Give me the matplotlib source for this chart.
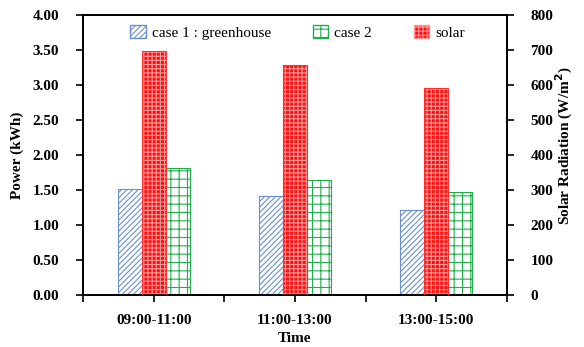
import matplotlib
matplotlib.use("Agg")
import matplotlib.pyplot as plt
from matplotlib.patches import Patch
import numpy as np

# Dados
periodos = ["09:00-11:00", "11:00-13:00", "13:00-15:00"]
case1 = [1.52, 1.42, 1.21]      # kWh
case2 = [1.82, 1.64, 1.47]      # kWh
solar = [697, 657, 592]         # W/m2

plt.rcParams["font.family"] = ["Liberation Serif", "DejaVu Serif"]
plt.rcParams["hatch.linewidth"] = 0.8

fig = plt.figure(figsize=(5.84, 3.47), dpi=100)
ax = fig.add_axes([83 / 584, 52 / 347, 424 / 584, 280 / 347])
ax2 = ax.twinx()

x = np.arange(len(periodos))
w = 0.17

# case 1 - azul hachurado
ax.bar(x - w, case1, w, facecolor="white", edgecolor="#6a90cf", hatch="//////",
       linewidth=0.8, zorder=2)
# case 2 - verde "tijolo"
ax.bar(x + w, case2, w, facecolor="white", edgecolor="#1fae4a", hatch="++",
       linewidth=0.8, zorder=2)
# solar - vermelho no eixo da direita
ax2.bar(x, solar, w, facecolor="#ff1010", edgecolor="#ff9a9a", hatch="++++",
        linewidth=0, zorder=2)
ax2.bar(x, solar, w, fill=False, edgecolor="#ff3030", linewidth=0.8, zorder=3)

ax.set_ylim(0, 4)
ax2.set_ylim(0, 800)
ax.set_xlim(-0.5, 2.5)
ax.set_yticks(np.arange(0, 4.01, 0.5))
ax.set_yticklabels(["%.2f" % v for v in np.arange(0, 4.01, 0.5)])
ax2.set_yticks(np.arange(0, 801, 100))

ax.set_xticks(np.arange(-0.5, 2.51, 0.5))
ax.set_xticklabels(["", periodos[0], "", periodos[1], "", periodos[2], ""])

for a in (ax, ax2):
    a.tick_params(direction="out", length=5, width=1.2, labelsize=11)
    for lab in a.get_yticklabels() + a.get_xticklabels():
        lab.set_fontweight("bold")
    for s in a.spines.values():
        s.set_linewidth(1.3)
ax.tick_params(axis="y", pad=12)
ax2.tick_params(axis="y", pad=12)
ax.tick_params(axis="x", pad=9)

ax.set_ylabel("Power (kWh)", fontsize=11, fontweight="bold", labelpad=6)
ax.set_xlabel("Time", fontsize=11, fontweight="bold", labelpad=3)
# rótulo do eixo direito posicionado à mão para não encostar nos números
fig.text(564 / 584, 1 - 146 / 347, "Solar Radiation (W/m$^\\mathbf{2}$)", rotation=90,
         ha="center", va="center", fontsize=11, fontweight="bold")

# Legenda com as três séries
handles = [
    Patch(facecolor="white", edgecolor="#6a90cf", hatch="//////", label="case 1 : greenhouse"),
    Patch(facecolor="white", edgecolor="#1fae4a", hatch="++", label="case 2"),
    Patch(facecolor="#ff1010", edgecolor="#ff9a9a", hatch="++++", label="solar"),
]
ax2.legend(handles=handles, loc="upper left", bbox_to_anchor=(0.097, 0.985),
           borderaxespad=0, ncol=3, frameon=False, fontsize=11, handlelength=1.0,
           handleheight=0.9, columnspacing=2.75, handletextpad=0.4)

fig.savefig("out.png", dpi=100)
